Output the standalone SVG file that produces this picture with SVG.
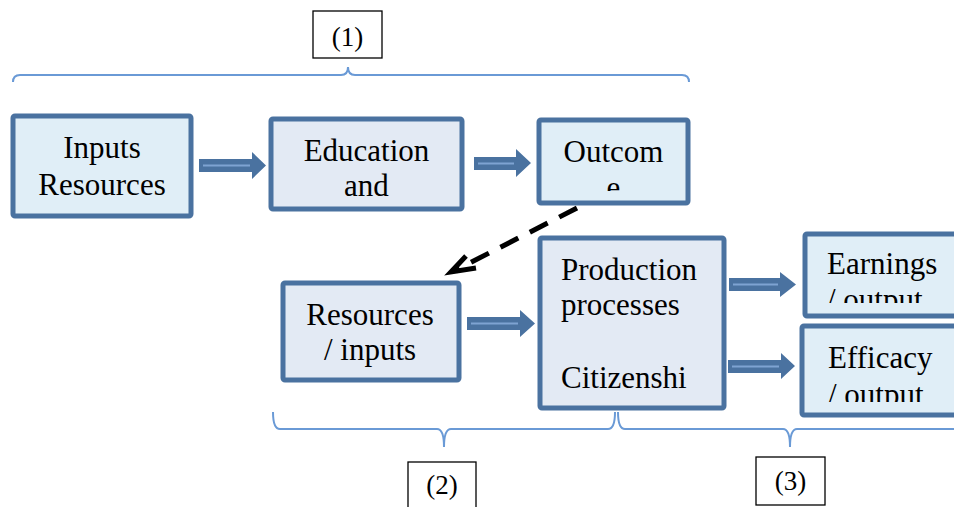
<svg xmlns="http://www.w3.org/2000/svg" width="954" height="507" viewBox="0 0 954 507">
<style>
.box{stroke:#4a72a0;stroke-width:5}
.b1{fill:#e0eef7}
.b2{fill:#e3eaf4}
text{font-family:'Liberation Serif','Times New Roman',Tinos,'DejaVu Serif',serif;fill:#000}
.t{font-size:31px}
.lab{font-size:27px}
.lbox{fill:#fff;stroke:#000;stroke-width:1.3}
.arr{fill:#4a72a0}
.hl{stroke:#7ea3d2;stroke-width:2;fill:none}
.brace{fill:none;stroke:#6a9ad6;stroke-width:2}
.dash{fill:none;stroke:#000;stroke-width:5;stroke-dasharray:20 13}
</style>
<defs>
<clipPath id="cOut"><rect x="541" y="122" width="145" height="69"/></clipPath>
<clipPath id="cEarn"><rect x="807" y="236" width="150" height="67"/></clipPath>
<clipPath id="cEff"><rect x="804" y="328" width="150" height="74"/></clipPath>
</defs>

<g id="braces">
<path class="brace" d="M13,82 Q13,75 20,75 L341,75 Q348,75 348,67 Q348,75 355,75 L682,75 Q689,75 689,82"/>
<path class="brace" d="M273,412 Q273,429 280,429 L437,429 Q444,429 444,447 Q444,429 451,429 L608,429 Q615,429 615,412"/>
<path class="brace" d="M618,412 Q618,429 625,429 L783,429 Q790,429 790,447 Q790,429 797,429 L954,429"/>
</g>

<g id="label1"><rect class="lbox" x="313" y="11" width="69" height="47"/><text class="lab" font-family="Liberation Serif, serif" x="347.5" y="46" text-anchor="middle">(1)</text></g>
<g id="label2"><rect class="lbox" x="408" y="462" width="68" height="50"/><text class="lab" font-family="Liberation Serif, serif" x="442" y="494" text-anchor="middle">(2)</text></g>
<g id="label3"><rect class="lbox" x="756" y="457" width="69" height="48"/><text class="lab" font-family="Liberation Serif, serif" x="790.5" y="490" text-anchor="middle">(3)</text></g>

<g id="inputs">
<rect class="box b1" x="13" y="116" width="178" height="100" rx="2"/>
<text class="t" x="102" y="158" text-anchor="middle">Inputs</text>
<text class="t" x="102" y="195" text-anchor="middle">Resources</text>
</g>
<g id="education">
<rect class="box b2" x="271" y="119" width="191" height="90" rx="2"/>
<text class="t" x="366.5" y="161" text-anchor="middle">Education</text>
<text class="t" x="366.5" y="196" text-anchor="middle">and</text>
</g>
<g id="outcome">
<rect class="box b1" x="539" y="120" width="149" height="83" rx="2"/>
<g clip-path="url(#cOut)">
<text class="t" x="613.5" y="162" text-anchor="middle">Outcom</text>
<text class="t" x="613.5" y="198" text-anchor="middle">e</text>
</g>
</g>
<g id="resources">
<rect class="box b2" x="283" y="283" width="176" height="97" rx="2"/>
<text class="t" x="370" y="325" text-anchor="middle">Resources</text>
<text class="t" x="370" y="360" text-anchor="middle">/ inputs</text>
</g>
<g id="production">
<rect class="box b2" x="540" y="238" width="184" height="170" rx="2"/>
<text class="t" x="561" y="280">Production</text>
<text class="t" x="561" y="315">processes</text>
<text class="t" x="561" y="388">Citizenshi</text>
</g>
<g id="earnings">
<rect class="box b1" x="805" y="234" width="160" height="82" rx="2"/>
<g clip-path="url(#cEarn)">
<text class="t" x="827" y="274">Earnings</text>
<text class="t" x="827" y="310">/ output</text>
</g>
</g>
<g id="efficacy">
<rect class="box b1" x="802" y="326" width="160" height="89" rx="2"/>
<g clip-path="url(#cEff)">
<text class="t" x="828" y="368">Efficacy</text>
<text class="t" x="828" y="405">/ output</text>
</g>
</g>

<g id="connectors">
<path class="arr" d="M199,159 H252 V152 L266,165.5 L252,179 V172 H199 Z"/>
<path class="hl" d="M203,165.5 H250"/>
<path class="arr" d="M474,157 H516 V149 L531,163 L516,177 V170 H474 Z"/>
<path class="hl" d="M478,163.5 H514"/>
<path class="arr" d="M467,317 H520 V310 L535,323.5 L520,337 V330 H467 Z"/>
<path class="hl" d="M471,323.5 H518"/>
<path class="arr" d="M729,278 H780 V272 L796,284.5 L780,297 V291 H729 Z"/>
<path class="hl" d="M733,284.5 H778"/>
<path class="arr" d="M728,360 H781 V353 L795,366 L781,379 V373 H728 Z"/>
<path class="hl" d="M732,366.5 H779"/>
<path class="dash" d="M577,208 L455,270.5"/>
<path d="M466,256 L451,272 L476,268" fill="none" stroke="#000" stroke-width="5" stroke-linejoin="miter"/>
</g>
</svg>
